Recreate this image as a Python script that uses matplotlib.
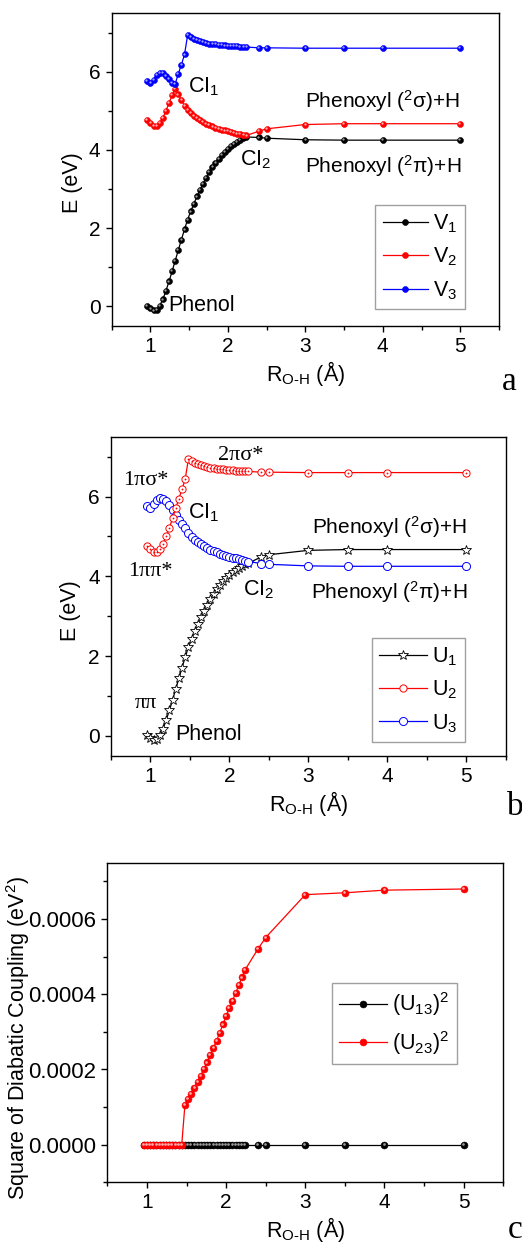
import matplotlib
matplotlib.use("Agg")
import matplotlib.pyplot as plt
from matplotlib.ticker import MultipleLocator, FormatStrFormatter
from matplotlib.transforms import offset_copy

plt.rcParams['font.family'] = ['Liberation Sans', 'DejaVu Sans']
plt.rcParams['mathtext.fontset'] = 'custom'
plt.rcParams['mathtext.rm'] = 'Liberation Sans'
plt.rcParams['mathtext.it'] = 'Liberation Sans:italic'
plt.rcParams['axes.unicode_minus'] = False

# O-H bond length grid (Angstrom)
R = [0.96, 1.00, 1.04, 1.08, 1.12, 1.16, 1.20, 1.24, 1.28, 1.32, 1.36, 1.40, 1.44,
     1.48, 1.52, 1.56, 1.60, 1.64, 1.68, 1.72, 1.76, 1.80, 1.84, 1.88, 1.92, 1.96,
     2.00, 2.04, 2.08, 2.12, 2.16, 2.20, 2.24, 2.4, 2.5, 3.0, 3.5, 4.0, 5.0]

# adiabatic energies (eV)
V1 = [0.02, -0.05, -0.10, -0.08, 0.02, 0.18, 0.40, 0.64, 0.90, 1.17, 1.44, 1.71, 1.97,
      2.22, 2.43, 2.62, 2.81, 2.98, 3.14, 3.29, 3.43, 3.56, 3.67, 3.78, 3.87, 3.96,
      4.03, 4.10, 4.16, 4.21, 4.26, 4.30, 4.33, 4.32, 4.30, 4.26, 4.25, 4.25, 4.25]
V2 = [4.77, 4.68, 4.61, 4.62, 4.68, 4.82, 5.00, 5.20, 5.40, 5.55, 5.42, 5.27, 5.13,
      5.02, 4.94, 4.87, 4.81, 4.76, 4.71, 4.67, 4.63, 4.60, 4.57, 4.54, 4.52, 4.50,
      4.48, 4.46, 4.44, 4.42, 4.40, 4.39, 4.37, 4.48, 4.54, 4.65, 4.67, 4.67, 4.67]
V3 = [5.76, 5.72, 5.80, 5.91, 5.97, 5.96, 5.90, 5.81, 5.72, 5.69, 5.95, 6.18, 6.44,
      6.93, 6.88, 6.84, 6.81, 6.78, 6.76, 6.74, 6.72, 6.71, 6.70, 6.69, 6.68, 6.67,
      6.66, 6.66, 6.65, 6.65, 6.64, 6.64, 6.63, 6.61, 6.61, 6.60, 6.60, 6.60, 6.60]

# diabatic energies (eV)
U1 = [0.02, -0.05, -0.10, -0.08, 0.02, 0.18, 0.40, 0.64, 0.90, 1.17, 1.44, 1.71, 1.97,
      2.22, 2.43, 2.62, 2.81, 2.98, 3.14, 3.29, 3.43, 3.56, 3.67, 3.78, 3.87, 3.96,
      4.03, 4.10, 4.16, 4.21, 4.26, 4.30, 4.33, 4.48, 4.54, 4.65, 4.67, 4.67, 4.67]
U2 = [4.77, 4.68, 4.61, 4.62, 4.68, 4.82, 5.00, 5.22, 5.45, 5.70, 5.95, 6.18, 6.44,
      6.93, 6.88, 6.84, 6.81, 6.78, 6.76, 6.74, 6.72, 6.71, 6.70, 6.69, 6.68, 6.67,
      6.66, 6.66, 6.65, 6.65, 6.64, 6.64, 6.63, 6.61, 6.61, 6.60, 6.60, 6.60, 6.60]
U3 = [5.76, 5.72, 5.80, 5.91, 5.97, 5.95, 5.88, 5.78, 5.66, 5.54, 5.42, 5.30, 5.20,
      5.08, 4.99, 4.92, 4.86, 4.81, 4.76, 4.71, 4.67, 4.63, 4.60, 4.57, 4.54, 4.51,
      4.49, 4.47, 4.45, 4.43, 4.41, 4.39, 4.37, 4.32, 4.30, 4.26, 4.25, 4.25, 4.25]

# squared diabatic couplings (eV^2)
U13_SQ = [0.0] * 39
U23_SQ = [0.0, 0.0, 0.0, 0.0, 0.0, 0.0, 0.0, 0.0, 0.0, 0.0, 0.0, 0.0, 0.0,
          0.000106, 0.000121, 0.000136, 0.000152, 0.000168, 0.000184, 0.000201,
          0.000219, 0.000238, 0.000257, 0.000277, 0.000298, 0.000320, 0.000342,
          0.000363, 0.000383, 0.000403, 0.000424, 0.000445, 0.000465,
          0.000520, 0.000551, 0.000665, 0.000670, 0.000677, 0.000680]

W, H = 522, 1245
fig = plt.figure(figsize=(W / 100, H / 100), dpi=100)


def axes_px(left, top, right, bottom):
    return fig.add_axes([left / W, 1 - bottom / H, (right - left) / W, (bottom - top) / H])


def style_axes(ax, ylim, ymajor, yminor, tick_fs):
    ax.set_xlim(0.5, 5.5)
    ax.set_ylim(*ylim)
    ax.xaxis.set_major_locator(MultipleLocator(1))
    ax.xaxis.set_minor_locator(MultipleLocator(0.5))
    ax.yaxis.set_major_locator(MultipleLocator(ymajor))
    ax.yaxis.set_minor_locator(MultipleLocator(yminor))
    ax.tick_params(which='both', direction='out', top=False, right=False,
                   width=1.0, labelsize=tick_fs)
    ax.tick_params(which='major', length=4.5)
    ax.tick_params(which='minor', length=3)
    for s in ax.spines.values():
        s.set_linewidth(1.0)
    ax.set_xlabel(r'R$_\mathregular{O‐H}$ (Å)', fontsize=15.5, labelpad=2)


def ball(ax, x, y, color, hi, ms, label=None):
    ax.plot(x, y, '-', color=color, lw=0.9, marker='o', ms=ms, mfc=color,
            mec=color, mew=0.4, label=label)
    tr = offset_copy(ax.transData, fig=fig, x=-0.6, y=0.6, units='points')
    ax.plot(x, y, 'o', ls='none', ms=ms * 0.38, mfc=hi, mec='none', transform=tr)


def add_legend(ax, handles, labels, anchor, fs, hl):
    leg = ax.legend(handles, labels, loc='upper left', bbox_to_anchor=anchor,
                    borderaxespad=0, fontsize=fs, frameon=True, fancybox=False,
                    edgecolor='#888888', numpoints=1, handlelength=hl,
                    handletextpad=0.25, labelspacing=0.5, borderpad=0.35)
    leg.get_frame().set_linewidth(1.0)
    return leg


# ---------- (a) adiabatic ----------
ax = axes_px(111.7, 13, 499, 326)
style_axes(ax, (-0.5, 7.5), 2, 1, 15)
ball(ax, R, V1, 'black', '#9a9a9a', 4.3, r'V$_\mathregular{1}$')
ball(ax, R, V2, '#ff0000', '#ffb0b0', 4.3, r'V$_\mathregular{2}$')
ball(ax, R, V3, '#0000ff', '#a0a0ff', 4.3, r'V$_\mathregular{3}$')
ax.set_ylabel('E (eV)', fontsize=15.5, labelpad=6)
ax.yaxis.set_label_coords(-0.075, 0.458)
ax.text(1.49, 5.62, r'CI$_\mathregular{1}$', fontsize=15.5, ha='left', va='center')
ax.text(2.16, 3.75, r'CI$_\mathregular{2}$', fontsize=15.5, ha='left', va='center')
ax.text(5.0, 5.24, r'Phenoxyl ($^\mathregular{2}$σ)+H', fontsize=15, ha='right', va='center')
ax.text(5.02, 3.6, r'Phenoxyl ($^\mathregular{2}$π)+H', fontsize=15, ha='right', va='center')
ax.text(1.23, 0.03, 'Phenol', fontsize=15.5, ha='left', va='center')
h, l = ax.get_legend_handles_labels()
add_legend(ax, h, l, (0.68, 0.3866), 15.5, 2.1)
fig.text(501.7 / W, 1 - 390 / H, 'a', fontsize=24, family='Liberation Serif')

# ---------- (b) diabatic ----------
ax = axes_px(111, 436.7, 505.7, 755.7)
style_axes(ax, (-0.5, 7.5), 2, 1, 15)
ax.plot(R, U1, '-', color='black', lw=0.9, marker='*', ms=7.5, mfc='white',
        mec='black', mew=0.6, label=r'U$_\mathregular{1}$')
ax.plot(R, U3, '-', color='#0000ff', lw=0.9, marker='o', ms=5.8, mfc='white',
        mec='#0000ff', mew=0.7, label=r'U$_\mathregular{3}$')
ax.plot(R, U2, '-', color='#ff0000', lw=0.9, marker='o', ms=5.2, mfc='white',
        mec='#ff0000', mew=0.7, label=r'U$_\mathregular{2}$')
ax.plot(R, U2, 'o', ls='none', ms=1.3, mfc='#ff0000', mec='none')
ax.set_ylabel('E (eV)', fontsize=15.5, labelpad=6)
ax.yaxis.set_label_coords(-0.075, 0.454)
ax.text(1.86, 7.04, '2πσ*', fontsize=16, ha='left', va='center', family='Liberation Serif')
ax.text(0.65, 6.39, '1πσ*', fontsize=16, ha='left', va='center', family='Liberation Serif')
ax.text(0.72, 4.13, '1ππ*', fontsize=16, ha='left', va='center', family='Liberation Serif')
ax.text(0.80, 0.80, 'ππ', fontsize=16, ha='left', va='center', family='Liberation Serif')
ax.text(1.48, 5.6, r'CI$_\mathregular{1}$', fontsize=15.5, ha='left', va='center')
ax.text(2.17, 3.67, r'CI$_\mathregular{2}$', fontsize=15.5, ha='left', va='center')
ax.text(5.01, 5.24, r'Phenoxyl ($^\mathregular{2}$σ)+H', fontsize=15, ha='right', va='center')
ax.text(5.01, 3.6, r'Phenoxyl ($^\mathregular{2}$π)+H', fontsize=15, ha='right', va='center')
ax.text(1.32, 0.03, 'Phenol', fontsize=15.5, ha='left', va='center')
h, l = ax.get_legend_handles_labels()
order = [0, 2, 1]
add_legend(ax, [h[i] for i in order], [l[i] for i in order], (0.661, 0.370), 15.5, 2.2)
fig.text(507 / W, 1 - 815 / H, 'b', fontsize=24, family='Liberation Serif')

# ---------- (c) couplings ----------
ax = axes_px(107.3, 862.7, 503.3, 1182.3)
style_axes(ax, (-0.0001, 0.00075), 0.0002, 0.0001, 15)
ax.yaxis.set_major_formatter(FormatStrFormatter('%.4f'))
ax.tick_params(axis='y', labelsize=16)
ball(ax, R, U13_SQ, 'black', '#9a9a9a', 5.0, r'(U$_\mathregular{13}$)$^\mathregular{2}$')
ball(ax, R, U23_SQ, '#ff0000', '#ffb0b0', 5.0, r'(U$_\mathregular{23}$)$^\mathregular{2}$')
ax.set_ylabel(r'Square of Diabatic Coupling (eV$^\mathregular{2}$)', fontsize=15.5)
ax.yaxis.set_label_coords(-0.19, 0.452)
h, l = ax.get_legend_handles_labels()
add_legend(ax, h, l, (0.567, 0.6245), 15.5, 2.2)
fig.text(508 / W, 1 - 1238 / H, 'c', fontsize=24, family='Liberation Serif')

fig.savefig('out.png', dpi=100)
